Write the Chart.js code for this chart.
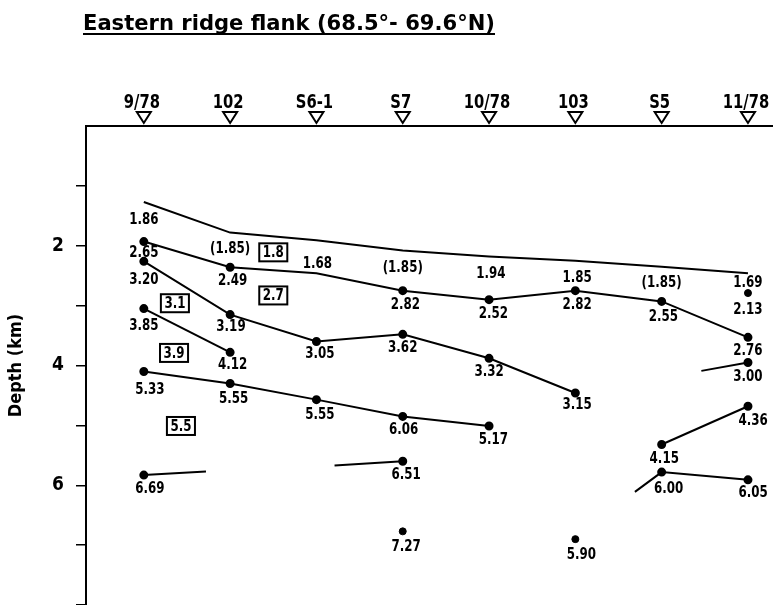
<!DOCTYPE html>
<html><head><meta charset="utf-8">
<script src="https://cdn.jsdelivr.net/npm/chart.js@4"></script>
<style>html,body{margin:0;padding:0;background:#fff}#wrap{width:773px;height:605px;position:relative}</style>
</head><body><div id="wrap"><canvas id="c"></canvas></div>
<script>
const titleText = 'Eastern ridge flank (68.5°- 69.6°N)';
const stations = ['9/78','102','S6-1','S7','10/78','103','S5','11/78'];
const stationPos = [0,1,2,3,4,5,6,7];
const depthTicks = [1,2,3,4,5,6,7,8];
const depthLabelled = [2,4,6];

// horizons (x = station position, depth in km, dot flag)
const seafloorX = [0,1,2,3,4,5,6,7];
const seafloorDepth = [1.27,1.78,1.91,2.08,2.18,2.25,2.35,2.46];
const seafloorDot = [0,0,0,0,0,0,0,0];
const h2X = [0,1,2,3,4,5,6,7];
const h2Depth = [1.93,2.36,2.46,2.75,2.90,2.75,2.93,3.53];
const h2Dot = [1,1,0,1,1,1,1,1];
const h3X = [0,1,2,3,4,5];
const h3Depth = [2.26,3.15,3.60,3.48,3.88,4.46];
const h3Dot = [1,1,1,1,1,1];
const h4X = [0,1];
const h4Depth = [3.05,3.78];
const h4Dot = [1,1];
const h5X = [0,1,2,3,4];
const h5Depth = [4.10,4.30,4.57,4.85,5.01];
const h5Dot = [1,1,1,1,1];
const h6X = [0,0.72];
const h6Depth = [5.83,5.77];
const h6Dot = [1,0];
const h7X = [2.21,3];
const h7Depth = [5.67,5.60];
const h7Dot = [0,1];
const h8X = [6.46,7];
const h8Depth = [4.09,3.95];
const h8Dot = [0,1];
const h9X = [6,7];
const h9Depth = [5.32,4.68];
const h9Dot = [1,1];
const h10X = [5.69,6,7];
const h10Depth = [6.11,5.78,5.91];
const h10Dot = [0,1,1];
const isoX = [3,5,7];
const isoDepth = [6.77,6.90,2.79];

// velocity labels (km/s)
const velText = ['1.86','2.65','3.20','3.85','5.33','6.69',
 '(1.85)','2.49','3.19','4.12','5.55',
 '1.68','3.05','5.55',
 '(1.85)','2.82','3.62','6.06','6.51','7.27',
 '1.94','2.52','3.32','5.17',
 '1.85','2.82','3.15','5.90',
 '(1.85)','2.55','4.15','6.00',
 '1.69','2.13','2.76','3.00','4.36','6.05'];
const velX = [0,0,0,0,0.07,0.07,
 1.0,1.03,1.01,1.03,1.04,
 2.01,2.04,2.04,
 3.0,3.03,3.0,3.01,3.04,3.04,
 4.02,4.05,4.0,4.05,
 5.02,5.02,5.02,5.07,
 6.0,6.02,6.03,6.08,
 7.0,7.0,7.0,7.0,7.06,7.06];
const velDepth = [1.56,2.11,2.55,3.32,4.39,6.05,
 2.04,2.58,3.35,3.97,4.54,
 2.29,3.80,4.81,
 2.36,2.98,3.70,5.06,5.81,7.02,
 2.45,3.13,4.09,5.23,
 2.53,2.98,4.64,7.15,
 2.60,3.17,5.54,6.05,
 2.61,3.05,3.74,4.17,4.92,6.11];
// boxed mean layer velocities
const boxText = ['1.8','2.7','3.1','3.9','5.5'];
const boxX = [1.50,1.50,0.36,0.35,0.43];
const boxDepth = [2.11,2.83,2.96,3.79,5.01];

const FONT = "'DejaVu Sans Condensed','Liberation Sans Narrow','Liberation Sans',sans-serif";

function line(xs, ys, dots){
  return {type:'line', data: xs.map((x,i)=>({x, y: ys[i]})),
    borderColor:'#000', borderWidth:2, backgroundColor:'#000',
    pointRadius: dots.map(d=>d?3.5:0), pointHoverRadius:0, tension:0, fill:false};
}
function textSet(txt, xs, ys, boxed){
  return {type:'scatter', data: xs.map((x,i)=>({x, y: ys[i]})), texts: txt, boxed,
    pointRadius:0, showLine:false};
}

const datasets = [
  line(seafloorX, seafloorDepth, seafloorDot),
  line(h2X, h2Depth, h2Dot),
  line(h3X, h3Depth, h3Dot),
  line(h4X, h4Depth, h4Dot),
  line(h5X, h5Depth, h5Dot),
  line(h6X, h6Depth, h6Dot),
  line(h7X, h7Depth, h7Dot),
  line(h8X, h8Depth, h8Dot),
  line(h9X, h9Depth, h9Dot),
  line(h10X, h10Depth, h10Dot),
  {type:'scatter', data: isoX.map((x,i)=>({x, y: isoDepth[i]})), pointRadius:3.5, backgroundColor:'#000', borderColor:'#000', showLine:false},
  textSet(velText, velX, velDepth, false),
  textSet(boxText, boxX, boxDepth, true)
];

const textPlugin = {
  id:'txt',
  afterDatasetsDraw(chart){
    const ctx = chart.ctx;
    chart.data.datasets.forEach((ds,i)=>{
      if(!ds.texts) return;
      const meta = chart.getDatasetMeta(i);
      ctx.save();
      ctx.font = 'bold 15px ' + FONT;
      ctx.textAlign = 'center'; ctx.textBaseline = 'middle'; ctx.fillStyle = '#000';
      meta.data.forEach((el,j)=>{
        const t = ds.texts[j];
        ctx.save();
        ctx.translate(el.x, el.y + 1);
        ctx.scale(0.88, 1);
        ctx.fillText(t, 0, 0);
        ctx.restore();
        if(ds.boxed){
          const w = ctx.measureText(t).width * 0.88 + 7;
          ctx.lineWidth = 2; ctx.strokeStyle = '#000';
          ctx.strokeRect(el.x - w/2, el.y - 9, w, 18);
        }
      });
      ctx.restore();
    });
  }
};

const decoPlugin = {
  id:'deco',
  afterDraw(chart){
    const ctx = chart.ctx;
    const xs = chart.scales.x;
    const top = chart.chartArea.top;
    ctx.save();
    ctx.strokeStyle = '#000'; ctx.lineWidth = 2; ctx.fillStyle = '#000';
    ctx.font = 'bold 20px ' + FONT;
    ctx.textAlign = 'center'; ctx.textBaseline = 'alphabetic';
    xs.ticks.forEach(t=>{
      const x = xs.getPixelForValue(t.value);
      ctx.beginPath();
      ctx.moveTo(x-7, top-14); ctx.lineTo(x+7, top-14); ctx.lineTo(x, top-3); ctx.closePath();
      ctx.stroke();
      ctx.save();
      ctx.translate(x - 2, top - 18);
      ctx.scale(0.82, 1);
      ctx.fillText(stations[stationPos.indexOf(t.value)], 0, 0);
      ctx.restore();
    });
    // title
    ctx.font = 'bold 21px ' + FONT;
    ctx.textAlign = 'left';
    const w = ctx.measureText(titleText).width;
    const x0 = 83, target = 412;
    ctx.save();
    ctx.translate(x0, 30);
    ctx.scale(target / w, 1);
    ctx.fillText(titleText, 0, 0);
    ctx.restore();
    ctx.lineWidth = 2;
    ctx.beginPath(); ctx.moveTo(x0, 34); ctx.lineTo(x0 + target, 34); ctx.stroke();
    ctx.restore();
  }
};

new Chart(document.getElementById('c'), {
  data: {datasets},
  options: {
    responsive:true, maintainAspectRatio:false, animation:false,
    layout:{padding:{left:0,right:0,top:0,bottom:0}, autoPadding:false},
    plugins:{legend:{display:false}, tooltip:{enabled:false}, title:{display:false}},
    scales:{
      x:{type:'linear', position:'top', min:-0.67, max:7.29,
        afterBuildTicks(s){ s.ticks = stationPos.map(v=>({value:v})); },
        afterFit(s){ s.height = 126; s.paddingLeft = 0; s.paddingRight = 0; },
        grid:{display:true, drawOnChartArea:false, drawTicks:false},
        border:{display:true, color:'#000', width:2},
        ticks:{display:false}
      },
      y:{type:'linear', reverse:true, min:0, max:8,
        afterBuildTicks(s){ s.ticks = depthTicks.map(v=>({value:v})); },
        afterFit(s){ s.width = 86; s.paddingTop = 0; s.paddingBottom = 0; },
        grid:{display:true, drawOnChartArea:false, drawTicks:true, tickLength:10, color:'#000', lineWidth:1.5},
        border:{display:true, color:'#000', width:2},
        ticks:{color:'#000', padding:12, font:{family:FONT, size:19, weight:'bold'},
          callback:(v)=> depthLabelled.includes(v) ? String(v) : ''},
        title:{display:true, text:'Depth (km)', color:'#000', padding:{top:6,bottom:0},
          font:{family:FONT, size:18, weight:'bold'}}
      }
    }
  },
  plugins:[textPlugin, decoPlugin]
});
</script></body></html>
